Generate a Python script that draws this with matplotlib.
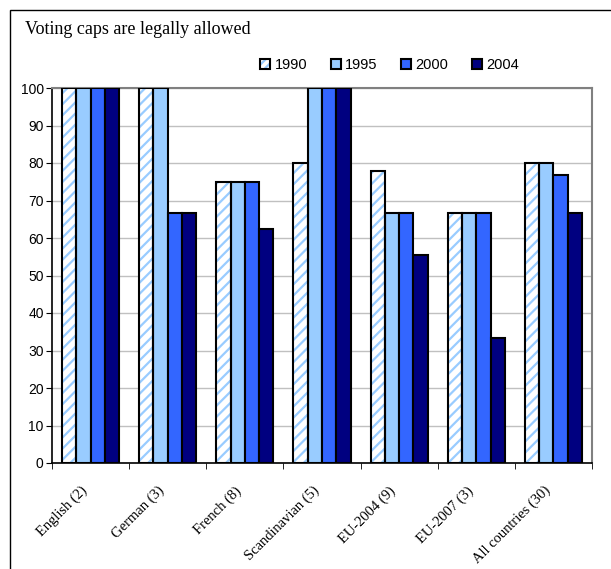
import numpy as np
import matplotlib
matplotlib.use("Agg")
import matplotlib.pyplot as plt
import matplotlib.transforms as mtransforms
from matplotlib.patches import Rectangle, Patch

categories = ["English (2)", "German (3)", "French (8)", "Scandinavian (5)",
              "EU-2004 (9)", "EU-2007 (3)", "All countries (30)"]
years = ["1990", "1995", "2000", "2004"]
v1990 = [100, 100, 75, 80, 77.8, 66.7, 80]
v1995 = [100, 100, 75, 100, 66.7, 66.7, 80]
v2000 = [100, 66.7, 75, 100, 66.7, 66.7, 76.7]
v2004 = [100, 66.7, 62.5, 100, 55.6, 33.3, 66.7]
yticks = list(range(0, 101, 10))

series = [v1990, v1995, v2000, v2004]
colors = ["white", "#99CCFF", "#3366FF", "#000080"]
hatch_blue = "#99CCFF"

plt.rcParams["hatch.linewidth"] = 1.6

fig = plt.figure(figsize=(6.11, 5.69), dpi=100)
ax = fig.add_axes([52 / 611, 1 - 463 / 569, 540 / 611, 375 / 569])

x = np.arange(len(categories))
w = 0.185
for i, (vals, c) in enumerate(zip(series, colors)):
    pos = x + (i - 1.5) * w
    if i == 0:
        # hatch layer in light blue, then black outline on top
        ax.bar(pos, vals, w, color="white", hatch="///", edgecolor=hatch_blue,
               linewidth=0, zorder=3)
        ax.bar(pos, vals, w, fill=False, edgecolor="black", linewidth=1.5,
               zorder=4)
    else:
        ax.bar(pos, vals, w, color=c, edgecolor="black", linewidth=1.5,
               zorder=3)

ax.set_xlim(-0.5, len(categories) - 0.5)
ax.set_ylim(0, 100)
ax.set_yticks(yticks)
ax.yaxis.grid(True, color="#c0c0c0", linewidth=1, zorder=0)
ax.tick_params(axis="y", labelsize=10, direction="out", length=4, pad=2)
for lab in ax.get_yticklabels():
    lab.set_family("Liberation Sans")

ax.set_xticks(x)
ax.set_xticklabels(categories, rotation=45, ha="right", rotation_mode="anchor",
                   family="Liberation Serif", fontsize=10.5)
ax.tick_params(axis="x", which="major", length=0, pad=15)
shift = mtransforms.ScaledTranslation(-10 / 100, 0, fig.dpi_scale_trans)
for lab in ax.get_xticklabels():
    lab.set_transform(lab.get_transform() + shift)
ax.set_xticks(np.arange(len(categories) + 1) - 0.5, minor=True)
ax.tick_params(axis="x", which="minor", length=4, direction="out")

for s in ["top", "right"]:
    ax.spines[s].set_color("#808080")
    ax.spines[s].set_linewidth(1.5)
for s in ["left", "bottom"]:
    ax.spines[s].set_color("black")
    ax.spines[s].set_linewidth(1.2)

fig.text(25 / 611, 1 - 30 / 569, "Voting caps are legally allowed",
         family="Liberation Serif", fontsize=13, va="center")

handles = []
for i, c in enumerate(colors):
    if i == 0:
        handles.append((Patch(facecolor="white", hatch="////",
                              edgecolor=hatch_blue, linewidth=0),
                        Patch(fill=False, edgecolor="black", linewidth=1.5)))
    else:
        handles.append(Patch(facecolor=c, edgecolor="black", linewidth=1.5))
fig.legend(handles, years, loc="center left",
           bbox_to_anchor=(247 / 611, 1 - 65 / 569),
           ncol=4, frameon=False, handlelength=0.7, handleheight=0.7,
           handletextpad=0.3, columnspacing=1.6,
           prop={"family": "Liberation Sans", "size": 10.5})

fig.add_artist(Rectangle((9.5 / 611, -0.05), 1.1, 1 - 9.5 / 569 + 0.05,
                         transform=fig.transFigure, fill=False,
                         edgecolor="black", linewidth=1))

fig.savefig("out.png", dpi=100)
